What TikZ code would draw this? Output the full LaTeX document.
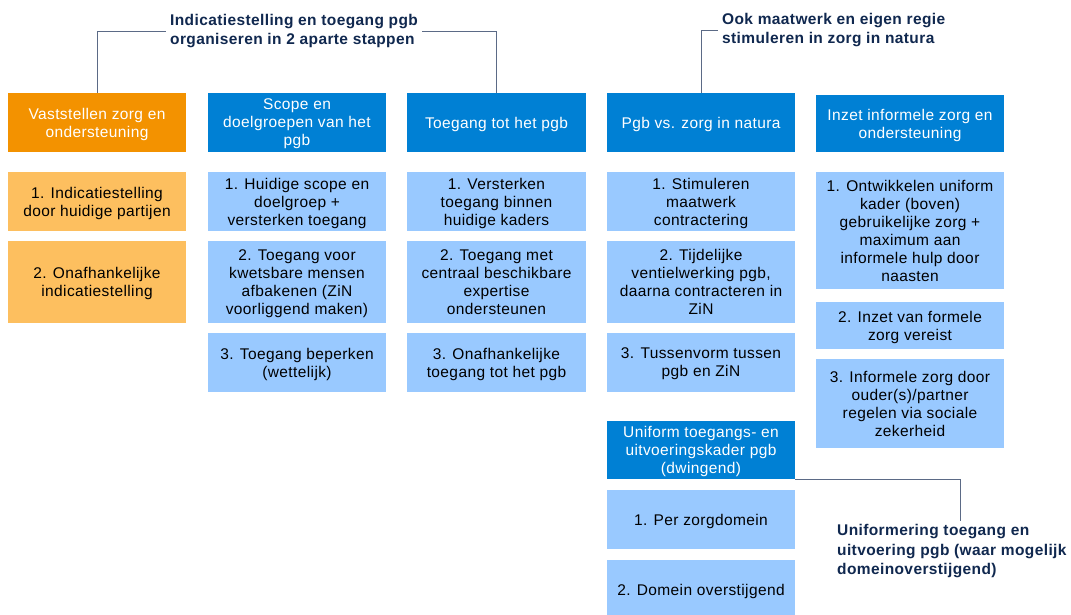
\documentclass[tikz,border=0pt]{standalone}
\usepackage{fontspec}
\setmainfont{Liberation Sans}[LetterSpace=2.5]
\definecolor{hdrblue}{HTML}{0080D4}
\definecolor{itmblue}{HTML}{99C9FF}
\definecolor{hdrorange}{HTML}{F39200}
\definecolor{itmorange}{HTML}{FDBF5F}
\definecolor{navy}{HTML}{10284F}
\definecolor{lnk}{HTML}{5B6A86}
\tikzset{
  box/.style={inner sep=0pt, align=center, anchor=center, font=\fontsize{15.5}{18}\selectfont,
    text depth=0pt},
  hdrB/.style={box, fill=hdrblue, text=white},
  hdrO/.style={box, fill=hdrorange, text=white},
  itmB/.style={box, fill=itmblue, text=black},
  itmO/.style={box, fill=itmorange, text=black},
  lbl/.style={inner xsep=4pt, inner ysep=0pt, align=left, text=navy, font=\fontsize{15.5}{19.5}\selectfont\bfseries},
  conn/.style={draw=lnk, line width=0.9pt},
  wA/.style={minimum width=178pt},
  wB/.style={minimum width=179pt},
  wC/.style={minimum width=188pt}
}
\begin{document}
\begin{tikzpicture}[x=1pt,y=-1pt]
\useasboundingbox (0,0) rectangle (1071,615);
\fill[white] (0,0) rectangle (1071,615);
% column 1
\node[hdrO, wA, minimum height=59pt] (h1) at (97,122.5) {Vaststellen zorg en\\ondersteuning};
\node[itmO, wA, minimum height=59pt] (a1) at (97,201.5) {1. Indicatiestelling\\door huidige partijen};
\node[itmO, wA, minimum height=82pt] (a2) at (97,282) {2. Onafhankelijke\\indicatiestelling};
% column 2
\node[hdrB, wA, minimum height=59pt] (h2) at (297,122.5) {Scope en\\doelgroepen van het\\pgb};
\node[itmB, wA, minimum height=59pt] (b1) at (297,201.5) {1. Huidige scope en\\doelgroep +\\versterken toegang};
\node[itmB, wA, minimum height=82pt] (b2) at (297,282) {2. Toegang voor\\kwetsbare mensen\\afbakenen (ZiN\\voorliggend maken)};
\node[itmB, wA, minimum height=59pt] (b3) at (297,362.5) {3. Toegang beperken\\(wettelijk)};
% column 3
\node[hdrB, wB, minimum height=59pt] (h3) at (496.5,122.5) {Toegang tot het pgb};
\node[itmB, wB, minimum height=59pt] (c1) at (496.5,201.5) {1. Versterken\\toegang binnen\\huidige kaders};
\node[itmB, wB, minimum height=82pt] (c2) at (496.5,282) {2. Toegang met\\centraal beschikbare\\expertise\\ondersteunen};
\node[itmB, wB, minimum height=59pt] (c3) at (496.5,362.5) {3. Onafhankelijke\\toegang tot het pgb};
% column 4
\node[hdrB, wC, minimum height=59pt] (h4) at (701,122.5) {Pgb vs. zorg in natura};
\node[itmB, wC, minimum height=59pt] (d1) at (701,201.5) {1. Stimuleren\\maatwerk\\contractering};
\node[itmB, wC, minimum height=82pt] (d2) at (701,282) {2. Tijdelijke\\ventielwerking pgb,\\daarna contracteren in\\ZiN};
\node[itmB, wC, minimum height=59pt] (d3) at (701,362.5) {3. Tussenvorm tussen\\pgb en ZiN};
\node[hdrB, wC, minimum height=58pt] (u) at (701,450) {Uniform toegangs- en\\uitvoeringskader pgb\\(dwingend)};
\node[itmB, wC, minimum height=59pt] (u1) at (701,519.5) {1. Per zorgdomein};
\node[itmB, wC, minimum height=59pt] (u2) at (701,589.5) {2. Domein overstijgend};
% column 5
\node[hdrB, wC, minimum height=57pt] (h5) at (910,123.5) {Inzet informele zorg en\\ondersteuning};
\node[itmB, wC, minimum height=117pt] (e1) at (910,230.5) {1. Ontwikkelen uniform\\kader (boven)\\gebruikelijke zorg +\\maximum aan\\informele hulp door\\naasten};
\node[itmB, wC, minimum height=47pt] (e2) at (910,325.5) {2. Inzet van formele\\zorg vereist};
\node[itmB, wC, minimum height=89pt] (e3) at (910,403.5) {3. Informele zorg door\\ouder(s)/partner\\regelen via sociale\\zekerheid};
% labels
\node[lbl, anchor=west] (l1) at (166,31) {Indicatiestelling en toegang pgb\\organiseren in 2 aparte stappen};
\node[lbl, anchor=west] (l2) at (718,30) {Ook maatwerk en eigen regie\\stimuleren in zorg in natura};
\node[lbl, anchor=north west, inner xsep=0pt] (l3) at (837,524.5) {Uniformering toegang en\\uitvoering pgb (waar mogelijk\\domeinoverstijgend)};
\coordinate (k3) at (960,0);
% connectors
\draw[conn] (h1.north) |- (l1.west);
\draw[conn] (l1.east) -| (h3.north);
\draw[conn] (h4.north) |- (l2.west);
\draw[conn] (u.south east) -| ([yshift=4pt]k3 |- l3.north);
\end{tikzpicture}
\end{document}
